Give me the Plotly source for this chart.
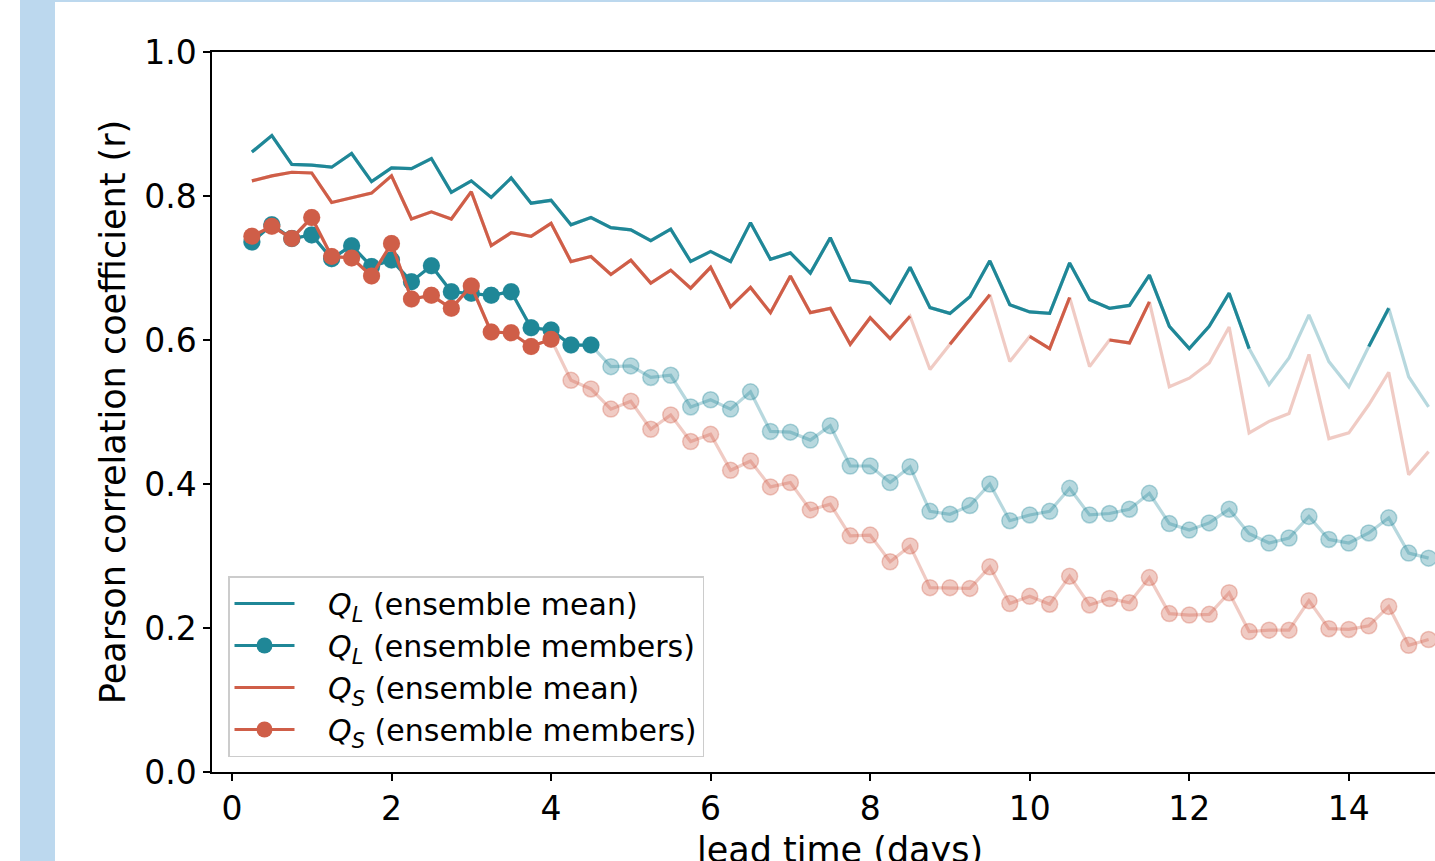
import plotly.graph_objects as go

lead_time = [0.25, 0.5, 0.75, 1.0, 1.25, 1.5, 1.75, 2.0, 2.25, 2.5, 2.75, 3.0,
             3.25, 3.5, 3.75, 4.0, 4.25, 4.5, 4.75, 5.0, 5.25, 5.5, 5.75, 6.0,
             6.25, 6.5, 6.75, 7.0, 7.25, 7.5, 7.75, 8.0, 8.25, 8.5, 8.75, 9.0,
             9.25, 9.5, 9.75, 10.0, 10.25, 10.5, 10.75, 11.0, 11.25, 11.5, 11.75, 12.0,
             12.25, 12.5, 12.75, 13.0, 13.25, 13.5, 13.75, 14.0, 14.25, 14.5, 14.75, 15.0]

QL_mean = [0.861, 0.884, 0.844, 0.843, 0.840, 0.859, 0.820, 0.839, 0.838, 0.852,
           0.805, 0.821, 0.798, 0.825, 0.790, 0.794, 0.760, 0.770, 0.756, 0.753,
           0.738, 0.754, 0.709, 0.723, 0.709, 0.763, 0.712, 0.721, 0.693, 0.742,
           0.683, 0.679, 0.652, 0.701, 0.645, 0.637, 0.660, 0.710, 0.649, 0.639,
           0.637, 0.707, 0.656, 0.644, 0.648, 0.690, 0.619, 0.588, 0.619, 0.665,
           0.588, 0.538, 0.575, 0.635, 0.570, 0.535, 0.591, 0.644, 0.549, 0.507]
QL_mean_sig = [True] * 51 + [False] * 5 + [True] * 2 + [False] * 2

QS_mean = [0.821, 0.828, 0.833, 0.832, 0.791, 0.797, 0.804, 0.828, 0.768, 0.778,
           0.768, 0.806, 0.731, 0.749, 0.744, 0.762, 0.709, 0.716, 0.691, 0.711,
           0.679, 0.697, 0.672, 0.701, 0.646, 0.673, 0.638, 0.689, 0.638, 0.644,
           0.594, 0.631, 0.602, 0.633, 0.559, 0.594, 0.629, 0.663, 0.570, 0.605,
           0.588, 0.659, 0.563, 0.600, 0.596, 0.653, 0.535, 0.547, 0.568, 0.618,
           0.471, 0.487, 0.498, 0.580, 0.463, 0.471, 0.510, 0.555, 0.413, 0.445]
QS_mean_sig = ([True] * 34 + [False] + [True] * 3 + [False] + [True] * 3 +
               [False] + [True] * 3 + [False] * 14)

QL_members = [0.736, 0.760, 0.741, 0.746, 0.713, 0.731, 0.702, 0.711, 0.681, 0.703,
              0.667, 0.665, 0.662, 0.667, 0.617, 0.614, 0.593, 0.593, 0.563, 0.564,
              0.548, 0.551, 0.507, 0.517, 0.504, 0.528, 0.473, 0.472, 0.461, 0.481,
              0.425, 0.425, 0.402, 0.424, 0.362, 0.358, 0.370, 0.400, 0.349, 0.357,
              0.362, 0.394, 0.357, 0.359, 0.365, 0.387, 0.345, 0.336, 0.346, 0.365,
              0.331, 0.318, 0.325, 0.355, 0.323, 0.318, 0.332, 0.353, 0.304, 0.297]
QL_members_sig = [True] * 18 + [False] * 42

QS_members = [0.744, 0.758, 0.741, 0.770, 0.716, 0.714, 0.689, 0.734, 0.657, 0.662,
              0.644, 0.675, 0.611, 0.610, 0.591, 0.601, 0.544, 0.532, 0.504, 0.515,
              0.476, 0.496, 0.459, 0.469, 0.419, 0.432, 0.396, 0.402, 0.364, 0.372,
              0.328, 0.329, 0.292, 0.314, 0.256, 0.256, 0.255, 0.285, 0.234, 0.244,
              0.233, 0.272, 0.232, 0.241, 0.235, 0.270, 0.220, 0.218, 0.219, 0.249,
              0.195, 0.197, 0.197, 0.238, 0.199, 0.198, 0.203, 0.230, 0.176, 0.184]
QS_members_sig = [True] * 16 + [False] * 44

y_ticks = [0.0, 0.2, 0.4, 0.6, 0.8, 1.0]
x_ticks = [0, 2, 4, 6, 8, 10, 12, 14]

TEAL = "rgb(31,135,151)"
TEAL_L = "rgba(31,135,151,0.32)"
RED = "rgb(207,94,72)"
RED_L = "rgba(207,94,72,0.32)"
FONT = "DejaVu Sans"
LW = 3.2


def masked(vals, sig):
    return [v if s else None for v, s in zip(vals, sig)]


fig = go.Figure()

# faded full series (non-significant parts show through)
fig.add_trace(go.Scatter(x=lead_time, y=QL_mean, mode="lines",
                         line=dict(color=TEAL_L, width=LW), showlegend=False, hoverinfo="skip"))
fig.add_trace(go.Scatter(x=lead_time, y=QS_mean, mode="lines",
                         line=dict(color=RED_L, width=LW), showlegend=False, hoverinfo="skip"))
fig.add_trace(go.Scatter(x=lead_time, y=QL_members, mode="lines+markers",
                         line=dict(color=TEAL_L, width=LW),
                         marker=dict(size=16, color=TEAL_L, line=dict(color=TEAL_L, width=1.5)),
                         showlegend=False, hoverinfo="skip"))
fig.add_trace(go.Scatter(x=lead_time, y=QS_members, mode="lines+markers",
                         line=dict(color=RED_L, width=LW),
                         marker=dict(size=16, color=RED_L, line=dict(color=RED_L, width=1.5)),
                         showlegend=False, hoverinfo="skip"))

SP = "&nbsp;&nbsp;&nbsp;"
# significant parts
fig.add_trace(go.Scatter(x=lead_time, y=masked(QL_mean, QL_mean_sig), mode="lines",
                         line=dict(color=TEAL, width=LW),
                         name=SP + "<i>Q</i><sub><i>L</i></sub> (ensemble mean)"))
fig.add_trace(go.Scatter(x=lead_time, y=masked(QL_members, QL_members_sig), mode="lines+markers",
                         line=dict(color=TEAL, width=LW), marker=dict(size=17, color=TEAL),
                         name=SP + "<i>Q</i><sub><i>L</i></sub> (ensemble members)"))
fig.add_trace(go.Scatter(x=lead_time, y=masked(QS_mean, QS_mean_sig), mode="lines",
                         line=dict(color=RED, width=LW),
                         name=SP + "<i>Q</i><sub><i>S</i></sub> (ensemble mean)"))
fig.add_trace(go.Scatter(x=lead_time, y=masked(QS_members, QS_members_sig), mode="lines+markers",
                         line=dict(color=RED, width=LW), marker=dict(size=17, color=RED),
                         name=SP + "<i>Q</i><sub><i>S</i></sub> (ensemble members)"))

W, H = 1435, 861
L, R, T, B = 212, 0, 52, 89
pw, ph = W - L - R, H - T - B


def px_x(p):
    return (p - L) / pw


def px_y(p):
    return (H - B - p) / ph


shapes = [
    dict(type="rect", xref="paper", yref="paper", x0=px_x(20), x1=px_x(55),
         y0=px_y(H), y1=px_y(0), fillcolor="#bcd8ee", line=dict(width=0), layer="below"),
    dict(type="rect", xref="paper", yref="paper", x0=px_x(55), x1=px_x(W),
         y0=px_y(2), y1=px_y(0), fillcolor="#bcd8ee", line=dict(width=0), layer="below"),
]

annotations = [
    dict(text="lead time (days)", xref="paper", yref="paper",
         x=px_x(840), y=px_y(828), xanchor="center", yanchor="top",
         showarrow=False, font=dict(family=FONT, size=35, color="black")),
]

fig.update_layout(
    width=W, height=H,
    margin=dict(l=L, r=R, t=T, b=B, pad=0),
    paper_bgcolor="white", plot_bgcolor="white",
    font=dict(family=FONT, size=33, color="black"),
    shapes=shapes,
    annotations=annotations,
    showlegend=True,
    legend=dict(x=px_x(228), y=px_y(757), xanchor="left", yanchor="bottom",
                bgcolor="white", bordercolor="#cccccc", borderwidth=1.5,
                font=dict(family=FONT, size=30, color="black"), itemwidth=60),
    xaxis=dict(range=[-0.25, 15.08], tickvals=x_ticks, ticks="outside", ticklen=7,
               tickwidth=1.5, tickcolor="black", showline=True, linecolor="black",
               linewidth=1.5, mirror=True, showgrid=False, zeroline=False,
               tickfont=dict(size=33)),
    yaxis=dict(range=[0, 1.0], tickvals=y_ticks, tickformat=".1f", ticks="outside",
               ticklen=7, tickwidth=1.5, tickcolor="black", showline=True,
               linecolor="black", linewidth=1.5, mirror=False, showgrid=False,
               zeroline=False,
               title=dict(text="Pearson correlation coefficient (r)", font=dict(size=35),
                          standoff=8),
               tickfont=dict(size=33)),
)

fig.write_html("out.html")
